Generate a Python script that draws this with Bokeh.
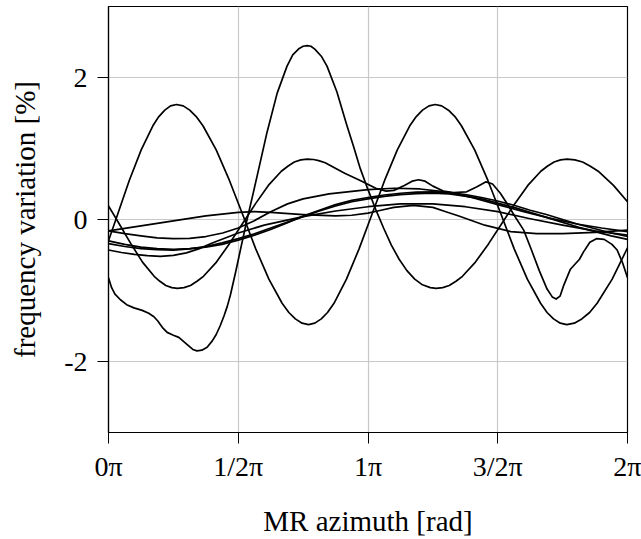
from bokeh.plotting import figure
from bokeh.models import FixedTicker, Range1d
from bokeh.embed import file_html
from bokeh.resources import INLINE

# x positions are in units of pi (0 .. 2 pi); values in %
a_x = [0, 0.035, 0.080, 0.126, 0.171, 0.194, 0.217, 0.239, 0.262,
       0.288, 0.313, 0.338, 0.364, 0.415, 0.466, 0.517, 0.567, 0.618, 0.669, 0.695, 0.720, 0.746, 0.771,
       0.795, 0.820, 0.844, 0.869, 0.917, 0.966, 1.015, 1.064, 1.113, 1.161, 1.186, 1.210, 1.235, 1.259,
       1.284, 1.310, 1.335, 1.360, 1.411, 1.462, 1.513, 1.563, 1.614, 1.665, 1.690, 1.715, 1.741, 1.766,
       1.795, 1.824, 1.854, 1.883, 1.941, 2.0]
a_y = [-0.30, 0.07, 0.55, 0.98, 1.32, 1.45, 1.54, 1.60, 1.62,
       1.60, 1.54, 1.45, 1.32, 0.98, 0.55, 0.07, -0.41, -0.84, -1.18, -1.31, -1.40, -1.46, -1.48,
       -1.46, -1.40, -1.31, -1.18, -0.84, -0.41, 0.07, 0.55, 0.98, 1.32, 1.45, 1.54, 1.60, 1.62,
       1.60, 1.54, 1.45, 1.32, 0.98, 0.55, 0.07, -0.41, -0.84, -1.18, -1.31, -1.40, -1.46, -1.48,
       -1.46, -1.40, -1.31, -1.18, -0.84, -0.40]

b_x = [0, 0.041, 0.086, 0.131, 0.176, 0.198, 0.221, 0.244, 0.266,
       0.291, 0.316, 0.341, 0.366, 0.416, 0.466, 0.516, 0.566, 0.616, 0.666, 0.691, 0.716, 0.741, 0.766,
       0.79, 0.81, 0.835, 0.86, 0.91, 0.97, 1.03, 1.07, 1.10, 1.14, 1.17, 1.195, 1.22, 1.25,
       1.29, 1.33, 1.38, 1.42, 1.455, 1.48, 1.51, 1.54, 1.57, 1.60, 1.63, 1.66,
       1.69, 1.71, 1.725, 1.74, 1.755, 1.78, 1.80, 1.815, 1.83, 1.855, 1.88,
       1.91, 1.94, 1.96, 1.98, 2.0]
b_y = [0.19, -0.06, -0.34, -0.60, -0.80, -0.87, -0.93, -0.96, -0.97,
       -0.96, -0.93, -0.87, -0.80, -0.60, -0.34, -0.06, 0.22, 0.48, 0.68, 0.75, 0.81, 0.84, 0.85,
       0.845, 0.83, 0.80, 0.75, 0.65, 0.55, 0.44, 0.40, 0.41, 0.48, 0.54, 0.56, 0.54, 0.47,
       0.40, 0.38, 0.39, 0.46, 0.53, 0.50, 0.37, 0.20, 0.02, -0.15, -0.43, -0.72,
       -0.98, -1.09, -1.12, -1.08, -0.92, -0.70, -0.62, -0.56, -0.46, -0.32, -0.27,
       -0.28, -0.35, -0.43, -0.60, -0.82]

c_x = [0, 0.012, 0.025, 0.046, 0.07, 0.098, 0.13, 0.155, 0.175, 0.19, 0.21,
       0.226, 0.25, 0.271, 0.29, 0.309, 0.325, 0.341, 0.36, 0.38, 0.40, 0.415,
       0.43, 0.445, 0.458, 0.47, 0.49, 0.51, 0.534, 0.555, 0.575, 0.611, 0.65,
       0.688, 0.71, 0.735, 0.75, 0.766, 0.78, 0.795, 0.82, 0.842, 0.88, 0.919, 0.945, 0.97,
       1.0, 1.03, 1.06, 1.09, 1.12, 1.15, 1.18, 1.21, 1.24, 1.263,
       1.288, 1.313, 1.339, 1.364, 1.414, 1.465, 1.515, 1.565, 1.616, 1.666, 1.691, 1.717, 1.742, 1.767,
       1.797, 1.827, 1.857, 1.887, 1.946, 2.0]
c_y = [-0.82, -0.96, -1.05, -1.13, -1.20, -1.245, -1.28, -1.32, -1.37, -1.43, -1.53,
       -1.59, -1.63, -1.66, -1.72, -1.78, -1.83, -1.85, -1.84, -1.80, -1.71, -1.62,
       -1.50, -1.36, -1.22, -1.06, -0.74, -0.40, 0.0, 0.33, 0.65, 1.23, 1.78,
       2.16, 2.32, 2.41, 2.44, 2.45, 2.44, 2.40, 2.30, 2.16, 1.80, 1.32, 1.02, 0.72,
       0.42, 0.14, -0.12, -0.36, -0.56, -0.72, -0.84, -0.92, -0.96, -0.97,
       -0.96, -0.93, -0.87, -0.80, -0.60, -0.34, -0.06, 0.22, 0.48, 0.68, 0.75, 0.81, 0.84, 0.85,
       0.84, 0.81, 0.75, 0.68, 0.48, 0.25]

d1_x = [0, 0.125, 0.25, 0.375, 0.5, 0.5625, 0.625, 0.75, 0.875, 0.9375, 1.0, 1.05, 1.1,
        1.175, 1.25, 1.3, 1.35, 1.45, 1.55, 1.65, 1.75, 1.875, 2.0]
d1_y = [-0.16, -0.09, -0.02, 0.05, 0.10, 0.11, 0.10, 0.07, 0.05, 0.06, 0.09, 0.13, 0.17,
        0.20, 0.17, 0.11, 0.05, -0.08, -0.17, -0.20, -0.20, -0.18, -0.15]

d2_x = [0, 0.0625, 0.125, 0.1875, 0.25, 0.3125, 0.375, 0.44, 0.5, 0.56, 0.625, 0.69, 0.75,
        0.85, 1.0, 1.1, 1.2, 1.3, 1.4, 1.5, 1.6, 1.7, 1.8, 1.9, 2.0]
d2_y = [-0.16, -0.20, -0.23, -0.26, -0.27, -0.265, -0.24, -0.19, -0.12, -0.02, 0.11, 0.22,
        0.29, 0.36, 0.42, 0.44, 0.43, 0.39, 0.31, 0.21, 0.11, 0.02, -0.06, -0.12, -0.17]

d34_x = [0, 0.0625, 0.125, 0.1875, 0.25, 0.3125, 0.375, 0.4375, 0.5, 0.5625, 0.625, 0.6875,
         0.75, 0.8125, 0.875, 0.9375, 1.0, 1.0625, 1.125, 1.1875, 1.25, 1.3125, 1.375, 1.4375,
         1.5, 1.5625, 1.625, 1.6875, 1.75, 1.8125, 1.875, 1.9375, 2.0]
d3_y = [-0.30, -0.35, -0.39, -0.41, -0.42, -0.41, -0.39, -0.35, -0.29, -0.22, -0.14, -0.05,
        0.05, 0.13, 0.21, 0.27, 0.31, 0.345, 0.37, 0.385, 0.39, 0.38, 0.35, 0.31,
        0.26, 0.20, 0.13, 0.07, 0.0, -0.07, -0.13, -0.19, -0.24]
d4_y = [-0.34, -0.38, -0.41, -0.425, -0.43, -0.415, -0.38, -0.33, -0.27, -0.20, -0.12, -0.04,
        0.04, 0.12, 0.19, 0.25, 0.29, 0.325, 0.35, 0.365, 0.37, 0.36, 0.33, 0.29,
        0.23, 0.17, 0.10, 0.03, -0.04, -0.11, -0.17, -0.23, -0.28]

d5_x = [0, 0.05, 0.1, 0.15, 0.2, 0.25, 0.3, 0.35, 0.4, 0.45, 0.5, 0.6, 0.75, 0.875, 1.0,
        1.125, 1.25, 1.375, 1.5, 1.625, 1.75, 1.875, 2.0]
d5_y = [-0.43, -0.465, -0.49, -0.51, -0.52, -0.505, -0.47, -0.41, -0.33, -0.26, -0.19,
        -0.08, 0.04, 0.12, 0.18, 0.22, 0.22, 0.18, 0.11, 0.01, -0.08, -0.16, -0.22]

x_ticks = [0, 0.5, 1, 1.5, 2]
x_tick_labels = ["0π", "1/2π", "1π", "3/2π", "2π"]
y_ticks = [-2, 0, 2]
y_tick_labels = ["-2", "0", "2"]

series = [(a_x, a_y), (b_x, b_y), (c_x, c_y), (d1_x, d1_y), (d2_x, d2_y),
          (d34_x, d3_y), (d34_x, d4_y), (d5_x, d5_y)]

FONT = "Liberation Serif"

p = figure(width=641, height=539, output_backend="svg", toolbar_location=None,
           x_range=Range1d(0, 2), y_range=Range1d(-3, 3),
           min_border_left=108, min_border_right=14, min_border_top=6,
           min_border_bottom=103)
p.background_fill_color = "white"
p.border_fill_color = "white"
p.outline_line_color = "black"
p.outline_line_width = 1.2

for xs, ys in series:
    p.line(xs, ys, line_color="black", line_width=1.7, line_join="round")

p.xaxis.ticker = FixedTicker(ticks=x_ticks)
p.xaxis.major_label_overrides = {t: l for t, l in zip(x_ticks, x_tick_labels)}
p.yaxis.ticker = FixedTicker(ticks=y_ticks)
p.yaxis.major_label_overrides = {t: l for t, l in zip(y_ticks, y_tick_labels)}

for ax in (p.xaxis[0], p.yaxis[0]):
    ax.axis_line_color = "black"
    ax.axis_line_width = 1.2
    ax.major_tick_line_color = "black"
    ax.major_tick_line_width = 1
    ax.major_tick_out = 11
    ax.major_tick_in = 0
    ax.minor_tick_line_color = None
    ax.major_label_text_font = FONT
    ax.major_label_text_font_size = "28px"
    ax.major_label_text_color = "black"
    ax.axis_label_text_font = FONT
    ax.axis_label_text_font_size = "29px"
    ax.axis_label_text_font_style = "normal"
    ax.axis_label_text_color = "black"

p.xaxis.major_label_standoff = 7
p.yaxis.major_label_standoff = 10
p.xaxis.axis_label = "MR azimuth [rad]"
p.yaxis.axis_label = "frequency variation [%]"
p.xaxis.axis_label_standoff = 20
p.yaxis.axis_label_standoff = 20

p.xgrid.ticker = FixedTicker(ticks=x_ticks)
p.ygrid.ticker = FixedTicker(ticks=y_ticks)
p.grid.grid_line_color = "#c8c8c8"
p.grid.grid_line_width = 1.2

open("out.html", "w").write(file_html(p, INLINE))
